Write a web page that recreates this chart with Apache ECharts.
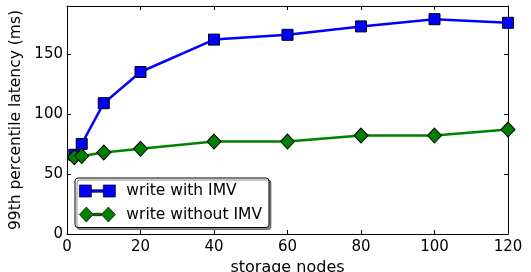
<!DOCTYPE html>
<html>
<head>
<meta charset="utf-8">
<script src="https://cdn.jsdelivr.net/npm/echarts@6/dist/echarts.min.js"></script>
<style>
  html, body { margin: 0; padding: 0; background: #fff; }
  #chart { width: 531px; height: 272px; }
</style>
</head>
<body>
<div id="chart"></div>
<script>
// storage nodes vs 99th percentile latency
const nodes = [2, 4, 10, 20, 40, 60, 80, 100, 120];
const withImv = [66, 75, 109, 135, 162, 166, 173, 179, 176];
const withoutImv = [64, 65, 68, 71, 77, 77, 82, 82, 87];
const seriesNames = ['write with IMV', 'write without IMV'];

const font = 'DejaVu Sans';
// legend icons: marker - line - marker, like matplotlib's numpoints=2
const squareIcon = 'path://M0,1 H12 V13 H0 Z M24,1 H36 V13 H24 Z M12,5.8 H24 V8.2 H12 Z';
const diamondIcon = 'path://M7,0 L14,7.5 L7,15 L0,7.5 Z M29,0 L36,7.5 L29,15 L22,7.5 Z M14,6.3 H22 V8.7 H14 Z';

function pairs(ys){
  return nodes.map((x, i) => [x, ys[i]]);
}

const chart = echarts.init(document.getElementById('chart'), null, { renderer: 'canvas' });

const lineAxis = { show: true, onZero: false, lineStyle: { color: '#000', width: 1 } };
const tick = { show: true, inside: true, length: 4, lineStyle: { color: '#000' } };

chart.setOption({
  animation: false,
  grid: { left: 67, right: 23, top: 6, bottom: 38, outerBoundsMode: 'none' },
  xAxis: [{
    type: 'value', min: 0, max: 120, interval: 20,
    axisLine: lineAxis, axisTick: tick, splitLine: { show: false },
    axisLabel: { color: '#000', fontFamily: font, fontSize: 15, margin: 6 },
    name: 'storage nodes', nameLocation: 'middle', nameGap: 25,
    nameTextStyle: { color: '#000', fontFamily: font, fontSize: 16 }
  }, {
    type: 'value', position: 'top', min: 0, max: 120, interval: 20,
    axisLine: lineAxis, axisTick: tick, axisLabel: { show: false }, splitLine: { show: false }
  }],
  yAxis: [{
    type: 'value', min: 0, max: 190, interval: 50,
    axisLine: lineAxis, axisTick: tick, splitLine: { show: false },
    axisLabel: {
      color: '#000', fontFamily: font, fontSize: 15, margin: 4,
      formatter: v => (v % 50 === 0 ? String(v) : '')
    },
    name: '99th percentile latency (ms)', nameLocation: 'middle', nameGap: 38,
    nameTextStyle: { color: '#000', fontFamily: font, fontSize: 15.5 }
  }, {
    type: 'value', position: 'right', min: 0, max: 190, interval: 50,
    axisLine: lineAxis, axisTick: tick, axisLabel: { show: false }, splitLine: { show: false }
  }],
  legend: {
    left: 75, top: 178, orient: 'vertical',
    itemWidth: 36, itemHeight: 15, itemGap: 7.5,
    padding: [5, 7, 5, 4],
    backgroundColor: '#fff', borderColor: '#000', borderWidth: 1, borderRadius: 3,
    shadowColor: 'rgba(0,0,0,0.45)', shadowOffsetX: 2, shadowOffsetY: 2, shadowBlur: 0,
    itemStyle: { borderColor: '#000', borderWidth: 0.7 },
    textStyle: { color: '#000', fontFamily: font, fontSize: 15.5, lineHeight: 15, padding: [0, 0, 0, 6] },
    data: [
      { name: seriesNames[0], icon: squareIcon },
      { name: seriesNames[1], icon: diamondIcon }
    ]
  },
  series: [{
    name: seriesNames[0], type: 'line', data: pairs(withImv),
    symbol: 'rect', symbolSize: 11,
    lineStyle: { color: '#0000ff', width: 2.5 },
    itemStyle: { color: '#0000ff', borderColor: '#000', borderWidth: 1 }
  }, {
    name: seriesNames[1], type: 'line', data: pairs(withoutImv),
    symbol: 'diamond', symbolSize: [14, 15],
    lineStyle: { color: '#008000', width: 2.5 },
    itemStyle: { color: '#008000', borderColor: '#000', borderWidth: 1 }
  }]
});
</script>
</body>
</html>
